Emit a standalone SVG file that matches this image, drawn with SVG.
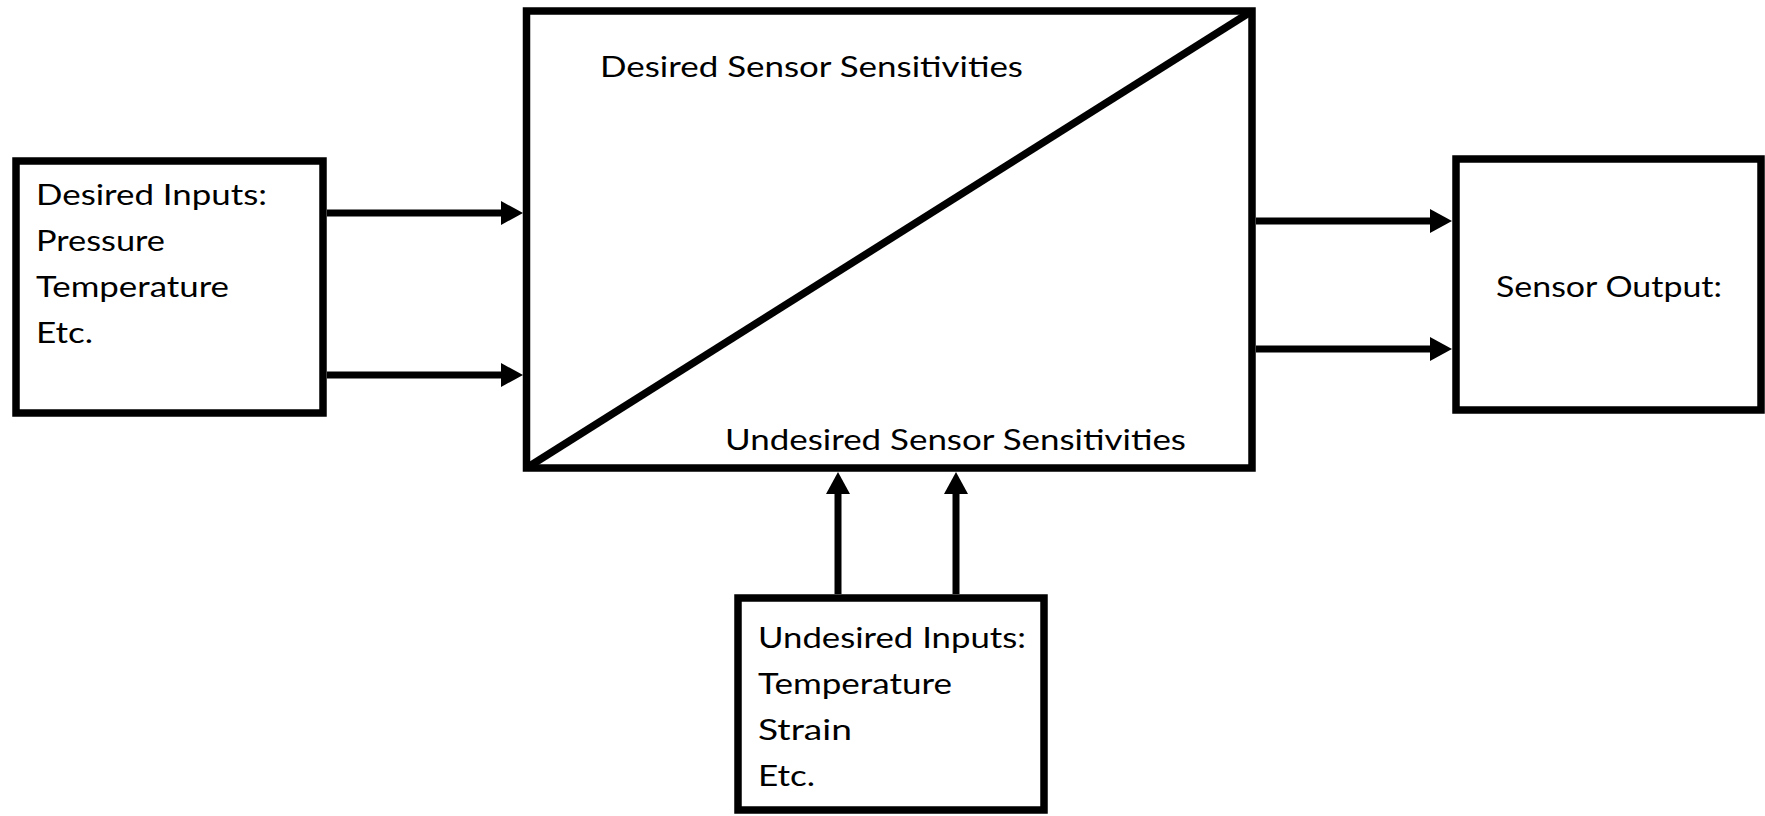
<svg xmlns="http://www.w3.org/2000/svg" width="1765" height="816" viewBox="0 0 1765 816">
  <style>
    .box { fill: #ffffff; stroke: #000000; stroke-width: 7.5; }
    .edge { fill: none; stroke: #000000; stroke-width: 7.5; }
    .wire { fill: none; stroke: #000000; stroke-width: 7; marker-end: url(#head); }
    .label { font-family: Lato, "Open Sans", "DejaVu Sans", sans-serif; font-size: 29px; fill: #000000; }
  </style>
  <defs>
    <marker id="head" viewBox="0 0 22 24" refX="1" refY="12" markerWidth="22" markerHeight="24" markerUnits="userSpaceOnUse" orient="auto">
      <path d="M0,0 L22,12 L0,24 Z" fill="#000000"/>
    </marker>
  </defs>
  <rect width="1765" height="816" fill="#ffffff"/>

  <!-- desired inputs -->
  <g id="desired-inputs">
    <rect class="box" x="16" y="161" width="307" height="252"/>
    <text class="label" x="36" y="205" textLength="231" lengthAdjust="spacingAndGlyphs">Desired Inputs:</text>
    <text class="label" x="36" y="251" textLength="129" lengthAdjust="spacingAndGlyphs">Pressure</text>
    <text class="label" x="36" y="297" textLength="193" lengthAdjust="spacingAndGlyphs">Temperature</text>
    <text class="label" x="36" y="343" textLength="57" lengthAdjust="spacingAndGlyphs">Etc.</text>
  </g>

  <!-- sensor block, split into desired / undesired sensitivities -->
  <g id="sensor">
    <rect class="box" x="526.5" y="11" width="725.5" height="457"/>
    <line class="edge" x1="526.5" y1="468" x2="1252" y2="11"/>
    <text class="label" x="600" y="77" textLength="423" lengthAdjust="spacingAndGlyphs">Desired Sensor Sensitivities</text>
    <text class="label" x="725" y="450" textLength="461" lengthAdjust="spacingAndGlyphs">Undesired Sensor Sensitivities</text>
  </g>

  <!-- sensor output -->
  <g id="sensor-output">
    <rect class="box" x="1456" y="159" width="305" height="251"/>
    <text class="label" x="1496" y="297" textLength="226" lengthAdjust="spacingAndGlyphs">Sensor Output:</text>
  </g>

  <!-- undesired inputs -->
  <g id="undesired-inputs">
    <rect class="box" x="738" y="598" width="306" height="212"/>
    <text class="label" x="758" y="648" textLength="268" lengthAdjust="spacingAndGlyphs">Undesired Inputs:</text>
    <text class="label" x="758" y="694" textLength="194" lengthAdjust="spacingAndGlyphs">Temperature</text>
    <text class="label" x="758" y="740" textLength="94" lengthAdjust="spacingAndGlyphs">Strain</text>
    <text class="label" x="758" y="786" textLength="57" lengthAdjust="spacingAndGlyphs">Etc.</text>
  </g>

  <!-- connectors -->
  <g id="connectors">
    <line class="wire" x1="327" y1="213" x2="502" y2="213"/>
    <line class="wire" x1="327" y1="375" x2="502" y2="375"/>
    <line class="wire" x1="1256" y1="221" x2="1431" y2="221"/>
    <line class="wire" x1="1256" y1="349" x2="1431" y2="349"/>
    <line class="wire" x1="838" y1="594" x2="838" y2="493"/>
    <line class="wire" x1="956" y1="594" x2="956" y2="493"/>
  </g>
</svg>
